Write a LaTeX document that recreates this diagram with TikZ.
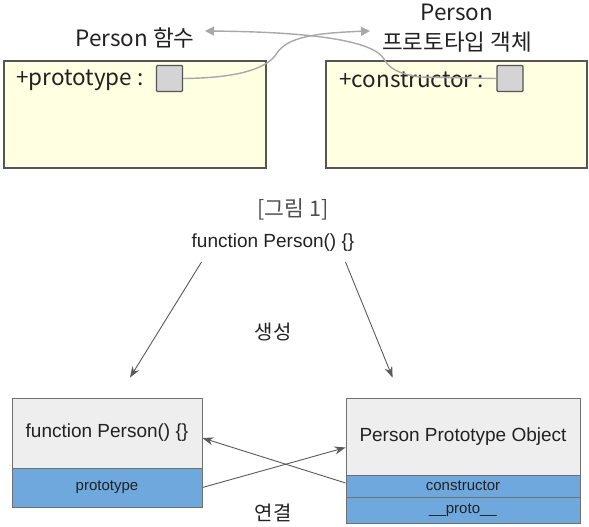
\documentclass[tikz,border=0pt]{standalone}
\usepackage{fontspec}
\setmainfont{Liberation Sans}
\newfontfamily\kr{Noto Sans CJK KR}
\usetikzlibrary{arrows.meta,calc}
\definecolor{yfill}{HTML}{FFFFE2}
\definecolor{yborder}{HTML}{555555}
\definecolor{sqfill}{HTML}{D4D4D4}
\definecolor{curvec}{HTML}{A8A8A8}
\definecolor{gfill}{HTML}{EEEEEE}
\definecolor{bfill}{HTML}{6FA8DC}
\definecolor{bborder}{HTML}{707070}
\definecolor{arrowc}{HTML}{5A5A5A}
\definecolor{txt}{HTML}{222222}
\tikzset{
  ybox/.style={draw=yborder, fill=yfill, line width=1.2pt, inner sep=0pt},
  sqbox/.style={draw=yborder, fill=sqfill, line width=1.2pt, inner sep=0pt, minimum width=26pt, minimum height=26pt, rounded corners=1pt},
  toptext/.style={font=\kr\fontsize{22.5}{30}\selectfont, text=txt, inner sep=0pt},
  curve/.style={draw=curvec, line width=1.4pt, -{Triangle[length=9pt,width=9pt]}},
  gbox/.style={draw=bborder, fill=gfill, line width=0.8pt, inner sep=0pt},
  bbox/.style={draw=bborder, fill=bfill, line width=0.8pt, inner sep=0pt},
  bigtext/.style={font=\fontsize{19}{22}\selectfont, text=txt},
  smalltext/.style={font=\fontsize{15}{18}\selectfont, text=txt},
  krtext/.style={font=\kr\fontsize{20}{22}\selectfont, text=txt, inner sep=0pt},
  arr/.style={draw=arrowc, line width=0.9pt, -{Stealth[length=11pt,width=8pt]}}
}
\begin{document}
\begin{tikzpicture}[x=1pt,y=-1pt]
\useasboundingbox (0,0) rectangle (589,527);
% ---------- top part ----------
\node[ybox, minimum width=262pt, minimum height=107pt] (lbox) at (135,114.5) {};
\node[ybox, minimum width=261pt, minimum height=107pt] (rbox) at (456.5,114.5) {};
\node[sqbox] (sqL) at (169.5,78.5) {};
\node[sqbox] (sqR) at (510,78.5) {};
\node[toptext, anchor=west] (ptxt) at (16,80) {+prototype\ :};
\node[toptext, anchor=west] (ctxt) at (339,80) {+constructor\ :};
\node[toptext] (lblL) at (135,38) {Person 함수};
\node[toptext, align=center] (lblR) at (457,28) {Person\\프로토타입 객체};
\coordinate (tipR) at (370,31);
\coordinate (tipL) at (205,31);
\draw[curve] (sqL.east) .. controls (240,78) and (268,68) .. (277,53)
  .. controls (287,38) and (312,33) .. (tipR);
\draw[curve] (sqR.west) -- (420,77) .. controls (398,74) and (389,68) .. (384,59)
  .. controls (374,42) and (320,32) .. (tipL);
% ---------- caption ----------
\node[font=\kr\fontsize{21.5}{24}\selectfont, text=txt!80, inner sep=0pt] (cap) at (293,209) {[그림 1]};
\node[bigtext, inner sep=0pt] (fn) at (273,243) {function Person() \{\}};
\node[krtext] (gen) at (273,332) {생성};
% ---------- bottom boxes ----------
\node[gbox, minimum width=190pt, minimum height=70pt] (lmain) at (107,433) {};
\node[bbox, minimum width=190pt, minimum height=39pt] (lproto) at (107,487.5) {};
\node[bigtext] at (lmain) {function Person() \{\}};
\node[smalltext] at (lproto) {prototype};
\node[gbox, minimum width=234pt, minimum height=77pt] (rmain) at (463,436.5) {};
\node[bbox, minimum width=234pt, minimum height=22pt] (rcons) at (463,486) {};
\node[bbox, minimum width=234pt, minimum height=26pt] (rproto) at (463,510) {};
\node[bigtext] at (rmain) {Person Prototype Object};
\node[smalltext] at (rcons) {constructor};
\node[smalltext] at (rproto) {\_\_proto\_\_};
\node[krtext] (link) at (273,513) {연결};
% ---------- arrows ----------
\draw[arr] ($(fn.south west)+(10,10)$) -- ($(lmain.north)+(23,-20)$);
\draw[arr] ($(fn.south east)+(-9,10)$) -- ($(rmain.north west)+(47,-20)$);
\draw[arr] (lproto.east) -- ($(rmain.west)+(0,11)$);
\draw[arr] ($(rcons.west)+(0,-3)$) -- ($(lmain.east)+(0,5)$);
\end{tikzpicture}
\end{document}
